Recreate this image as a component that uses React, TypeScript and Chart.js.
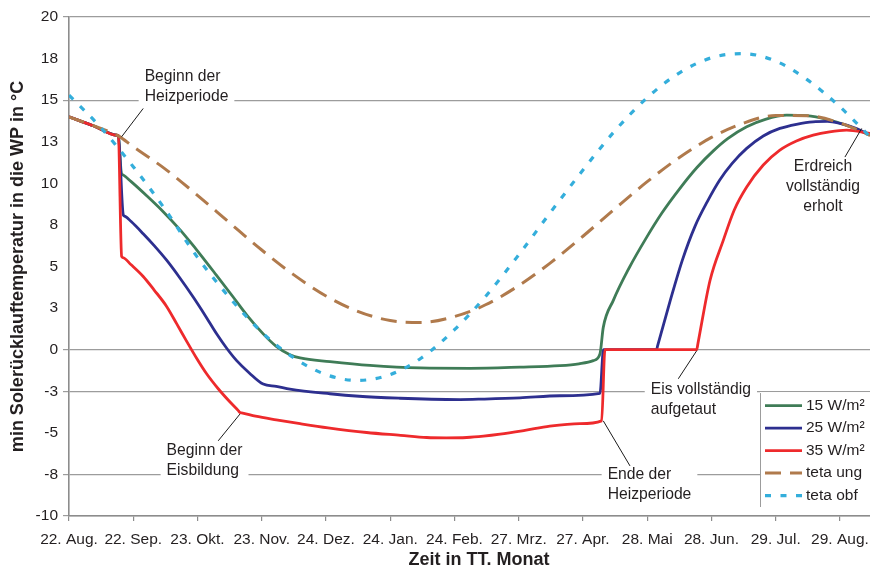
import React, { useEffect, useRef } from "react";
import { Chart, registerables } from "chart.js";

Chart.register(...registerables);

// ---------- axis data ----------
const xTickDays = [0, 31, 62, 93, 124, 155, 186, 217, 248, 279, 310, 341, 372];
const xTickLabels = ["22. Aug.", "22. Sep.", "23. Okt.", "23. Nov.", "24. Dez.", "24. Jan.", "24. Feb.", "27. Mrz.", "27. Apr.", "28. Mai", "28. Jun.", "29. Jul.", "29. Aug."];
const xMaxDay = 386.5;
const yMin = -10;
const yMax = 20;
const yStep = 2.5;
const yGridValues = [20, 15, 0, -2.5, -7.5, -10];

// ---------- series (day since 22. Aug., temperature °C) ----------
const w15Days = [0, 12, 23.0, 23.8, 25.3, 25.9, 30, 37.5, 45, 53.6, 58, 63.2, 71, 79.3, 86, 93.7, 100, 106.6, 111.5, 125.9, 145.2, 169.4, 193.5, 217.6, 236.9, 246, 253, 256.2, 257.8, 262.6, 270, 278.7, 286, 294.8, 303, 310.9, 318, 327, 336, 346.3, 356, 367, 376, 386.5];
const w15Temps = [14.0, 13.45, 12.89, 12.85, 10.6, 10.52, 10.1, 9.25, 8.35, 7.2, 6.55, 5.75, 4.5, 3.15, 2.05, 0.95, 0.2, -0.3, -0.5, -0.72, -0.95, -1.1, -1.12, -1.05, -0.96, -0.85, -0.66, -0.26, 1.34, 2.95, 4.85, 6.75, 8.2, 9.7, 10.95, 11.95, 12.7, 13.4, 13.85, 14.1, 14.07, 13.8, 13.45, 12.9];

const w25Days = [0, 12, 23.0, 23.8, 26.2, 26.8, 30, 35.8, 41, 47.1, 53, 60, 66, 71.3, 76, 80.9, 87, 93.7, 100, 106.6, 125.9, 140, 159.7, 175, 188.7, 200, 217.6, 236.9, 256.2, 257.9, 283.5, 284.0, 290, 296, 302, 308, 314, 320, 327, 335, 343, 351, 359, 366, 372, 380, 386.5];
const w25Temps = [14.0, 13.45, 12.89, 12.85, 8.1, 8.03, 7.7, 6.97, 6.27, 5.38, 4.4, 3.15, 2.0, 0.94, 0.1, -0.66, -1.4, -2.07, -2.2, -2.37, -2.65, -2.8, -2.92, -2.98, -3.0, -2.97, -2.9, -2.77, -2.63, 0, 0, 0.23, 2.9, 5.4, 7.4, 8.9, 10.2, 11.2, 12.1, 12.85, 13.3, 13.55, 13.7, 13.72, 13.6, 13.3, 12.9];

const w35Days = [0, 12, 23.0, 23.8, 25.4, 26.0, 30, 35.8, 41, 47.1, 52, 56.8, 61.5, 66.4, 72, 77.7, 81.8, 82.5, 83.3, 90, 100, 111.5, 125, 143.6, 160, 172.6, 182, 191.9, 200, 208, 220, 232, 246.6, 257, 258.6, 302.9, 303.5, 309.3, 315.7, 321, 327, 335, 343, 351, 359.1, 367, 375.2, 386.5];
const w35Temps = [14.0, 13.45, 12.89, 12.85, 5.6, 5.54, 5.1, 4.4, 3.6, 2.6, 1.55, 0.5, -0.5, -1.45, -2.35, -3.15, -3.68, -3.78, -3.8, -4.0, -4.22, -4.45, -4.7, -4.98, -5.15, -5.28, -5.3, -5.28, -5.2, -5.08, -4.85, -4.6, -4.45, -4.28, 0, 0, 0.39, 4.16, 6.57, 8.4, 9.78, 11.1, 12.0, 12.55, 12.9, 13.1, 13.2, 13.0];

const ungDays = [0, 12, 23.8, 31, 46, 62, 77, 93, 108, 124, 139, 155, 170, 186, 201, 217, 232, 248, 263, 279, 294, 310, 325, 341, 356, 372, 386.5];
const ungTemps = [14.0, 13.45, 12.85, 12.2, 10.9, 9.28, 7.68, 5.99, 4.54, 3.23, 2.32, 1.75, 1.64, 1.99, 2.7, 3.85, 5.19, 6.82, 8.43, 10.1, 11.51, 12.76, 13.6, 14.08, 14.07, 13.63, 12.89];

const obfDays = [0, 15, 31, 46, 62, 77, 93, 108, 124, 139, 155, 170, 186, 201, 217, 232, 248, 263, 279, 294, 310, 325, 341, 356, 372, 386.5];
const obfTemps = [15.3, 13.4, 11.0, 8.5, 5.55, 3.2, 1.05, -0.45, -1.5, -1.85, -1.5, -0.5, 1.2, 3.2, 5.7, 8.2, 10.8, 13.1, 15.15, 16.6, 17.55, 17.8, 17.35, 16.25, 14.6, 12.8];

const seriesLabels = ["15 W/m²", "25 W/m²", "35 W/m²", "teta ung", "teta obf"];

// ---------- annotations (anchored in data units) ----------
const annotations = [
  { lines: ["Beginn der", "Heizperiode"], day: 36.5, temp: 16.39, align: "left", from: [25.4, 12.8], to: [35.8, 14.5] },
  { lines: ["Beginn der", "Eisbildung"], day: 47.1, temp: -6.08, align: "left", from: [82.5, -3.87], to: [72.0, -5.48] },
  { lines: ["Eis vollständig", "aufgetaut"], day: 280.7, temp: -2.41, align: "left", from: [302.9, -0.06], to: [294.0, -1.75] },
  { lines: ["Ende der", "Heizperiode"], day: 259.9, temp: -7.53, align: "left", from: [257.8, -4.28], to: [270.7, -6.99] },
  { lines: ["Erdreich", "vollständig", "erholt"], day: 363.8, temp: 10.98, align: "center", from: [382.5, 13.3], to: [374.4, 11.58] },
];

const xTitle = "Zeit in TT. Monat";
const yTitle = "min Solerücklauftemperatur in die WP in °C";

const FONT = '"Liberation Sans", Arial, Helvetica, sans-serif';
const TEXT = "#231f20";
const AXIS = "#8c8c8c";
const GRID = "#9c9c9c";

const pts = (days: number[], temps: number[]) => days.map((d, i) => ({ x: d, y: temps[i] }));

const fmtY = (v: number) => {
  const r = Math.round(Math.abs(v));
  return String(v < 0 ? -r : r);
};

const overlayPlugin = {
  id: "overlay",
  afterDraw(chart: any) {
    const { ctx, chartArea } = chart;
    const xs = chart.scales.x;
    const ys = chart.scales.y;
    ctx.save();

    // annotations
    const lineGap = 20;
    for (const a of annotations) {
      ctx.font = `15.7px ${FONT}`;
      const px = xs.getPixelForValue(a.day);
      const py = ys.getPixelForValue(a.temp);
      const widths = a.lines.map((l) => ctx.measureText(l).width);
      const maxW = Math.max(...widths);
      const left = a.align === "center" ? px - maxW / 2 : px;
      ctx.fillStyle = "#ffffff";
      ctx.fillRect(left - 6, py - 11, maxW + 12, (a.lines.length - 1) * lineGap + 22);
      ctx.fillStyle = TEXT;
      ctx.textBaseline = "middle";
      ctx.textAlign = a.align === "center" ? "center" : "left";
      a.lines.forEach((l, i) => ctx.fillText(l, a.align === "center" ? px : left, py + i * lineGap));
      ctx.strokeStyle = "#1a1a1a";
      ctx.lineWidth = 1;
      ctx.setLineDash([]);
      ctx.beginPath();
      ctx.moveTo(xs.getPixelForValue(a.from[0]), ys.getPixelForValue(a.from[1]));
      ctx.lineTo(xs.getPixelForValue(a.to[0]), ys.getPixelForValue(a.to[1]));
      ctx.stroke();
    }

    // legend
    const lgLeft = chartArea.right - 110;
    const lgTop = ys.getPixelForValue(-2.5) + 0.8;
    const lgBottom = chartArea.bottom - 9;
    ctx.fillStyle = "#ffffff";
    ctx.fillRect(lgLeft, lgTop, chartArea.right - lgLeft, lgBottom - lgTop);
    ctx.strokeStyle = GRID;
    ctx.lineWidth = 1;
    ctx.beginPath();
    ctx.moveTo(lgLeft + 0.5, lgTop + 1);
    ctx.lineTo(lgLeft + 0.5, lgBottom);
    ctx.stroke();
    ctx.font = `15.5px ${FONT}`;
    ctx.textAlign = "left";
    ctx.textBaseline = "middle";
    chart.data.datasets.forEach((ds: any, i: number) => {
      const yy = lgTop + 13.5 + i * 22.5;
      ctx.strokeStyle = ds.borderColor;
      ctx.lineWidth = ds.borderWidth;
      ctx.lineCap = "butt";
      ctx.setLineDash(ds.borderDash || []);
      ctx.beginPath();
      ctx.moveTo(lgLeft + 5, yy);
      ctx.lineTo(lgLeft + 42, yy);
      ctx.stroke();
      ctx.setLineDash([]);
      ctx.fillStyle = TEXT;
      ctx.fillText(ds.label, lgLeft + 46, yy);
    });

    // axis titles
    ctx.font = `bold 18px ${FONT}`;
    ctx.fillStyle = TEXT;
    ctx.textAlign = "center";
    ctx.textBaseline = "middle";
    ctx.fillText(xTitle, 479, chartArea.bottom + 44.5);
    ctx.translate(18.5, (chartArea.top + chartArea.bottom) / 2);
    ctx.rotate(-Math.PI / 2);
    ctx.fillText(yTitle, 0, 0);
    ctx.restore();
  },
};

export default function App() {
  const ref = useRef<HTMLCanvasElement | null>(null);

  useEffect(() => {
    document.body.style.margin = "0";
    const canvas = ref.current;
    if (!canvas) return;
    const gridColor = (c: any) => (yGridValues.includes(c.tick?.value) ? GRID : "rgba(0,0,0,0)");
    const base = { pointRadius: 0, pointHoverRadius: 0, fill: false, cubicInterpolationMode: "monotone" };
    const chart = new Chart(canvas, {
      type: "line",
      data: {
        datasets: [
          { ...base, label: seriesLabels[0], data: pts(w15Days, w15Temps), borderColor: "#3f7c57", borderWidth: 2.8, order: 4 },
          { ...base, label: seriesLabels[1], data: pts(w25Days, w25Temps), borderColor: "#2d2f8f", borderWidth: 2.8, order: 3 },
          { ...base, label: seriesLabels[2], data: pts(w35Days, w35Temps), borderColor: "#ee2a2c", borderWidth: 2.8, order: 2 },
          { ...base, label: seriesLabels[3], data: pts(ungDays, ungTemps), borderColor: "#b07a4c", borderWidth: 3, borderDash: [16, 9], order: 1 },
          { ...base, label: seriesLabels[4], data: pts(obfDays, obfTemps), borderColor: "#34aedb", borderWidth: 3.2, borderDash: [6, 9.5], order: 0 },
        ] as any,
      },
      options: {
        responsive: false,
        maintainAspectRatio: false,
        animation: false,
        events: [],
        layout: { padding: { left: 0, right: 0, top: 17, bottom: 0 } },
        plugins: { legend: { display: false }, tooltip: { enabled: false }, title: { display: false } },
        scales: {
          x: {
            type: "linear",
            min: 0,
            max: xMaxDay,
            afterBuildTicks: (s: any) => {
              s.ticks = xTickDays.map((v) => ({ value: v }));
            },
            afterFit: (s: any) => {
              s.height = 52;
              s.paddingLeft = 0;
              s.paddingRight = 0;
            },
            ticks: {
              autoSkip: false,
              maxRotation: 0,
              padding: 9,
              color: TEXT,
              font: { family: FONT, size: 15.5 },
              callback: (_v: any, i: number) => xTickLabels[i],
            },
            grid: { drawOnChartArea: false, drawTicks: true, tickLength: 5, color: AXIS, lineWidth: 1.2 },
            border: { display: true, color: AXIS, width: 1.6 },
          },
          y: {
            type: "linear",
            min: yMin,
            max: yMax,
            afterFit: (s: any) => {
              s.width = 69;
            },
            ticks: {
              stepSize: yStep,
              padding: 5,
              color: TEXT,
              font: { family: FONT, size: 15.5 },
              callback: (v: any) => fmtY(Number(v)),
            },
            grid: { color: gridColor, tickColor: gridColor, tickLength: 6, lineWidth: 1.2 },
            border: { display: true, color: AXIS, width: 1.6 },
          },
        },
      } as any,
      plugins: [overlayPlugin],
    });
    return () => chart.destroy();
  }, []);

  return (
    <div style={{ width: 870, height: 568, background: "#fff" }}>
      <canvas ref={ref} width={870} height={568} style={{ display: "block", width: 870, height: 568 }} />
    </div>
  );
}
